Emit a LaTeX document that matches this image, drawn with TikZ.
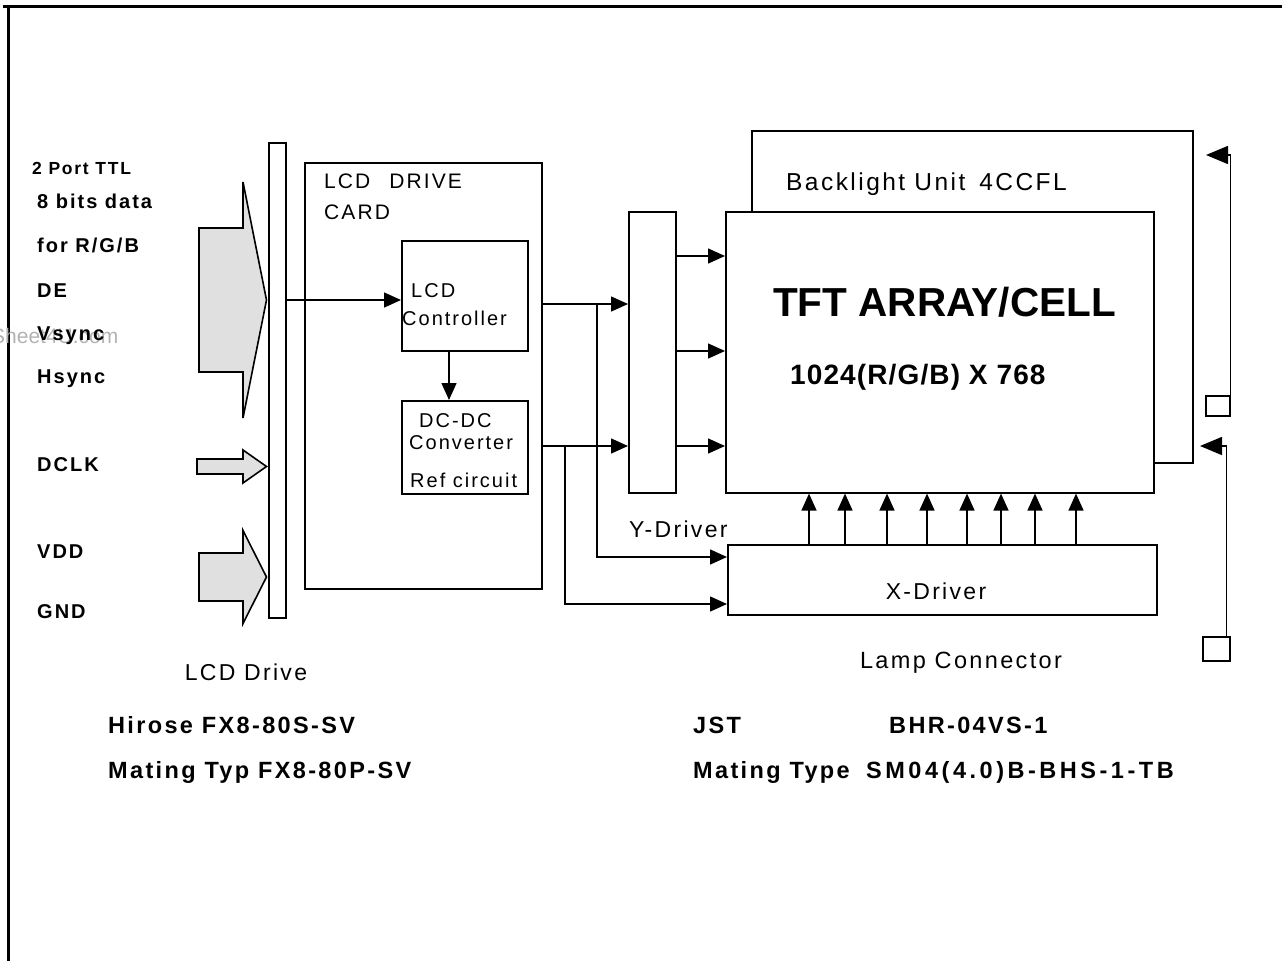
\documentclass[tikz,border=0pt]{standalone}
\usepackage{fontspec}
\setmainfont{Liberation Sans}
\newfontfamily\widesans{Liberation Sans}[LetterSpace=10]
\newfontfamily\midsans{Liberation Sans}[LetterSpace=4]
\usetikzlibrary{arrows.meta}
\begin{document}
\begin{tikzpicture}[x=1pt,y=-1pt,
  box/.style={draw,line width=1.6pt,inner sep=0pt,anchor=north west},
  sig/.style={line width=1.5pt,-{Triangle[length=17pt,width=15pt]}},
  lamp/.style={line width=1.6pt,-{Triangle[length=22pt,width=18pt]}},
  fat/.style={draw,line width=1.6pt,fill=black!12},
  pin/.style={font=\widesans\bfseries\fontsize{20}{24}\selectfont,anchor=base west,inner sep=0pt},
  txt/.style={font=\widesans\fontsize{23}{28}\selectfont,anchor=base west,inner sep=0pt},
  cardtxt/.style={font=\widesans\fontsize{20}{24}\selectfont,anchor=base west,inner sep=0pt},
  part/.style={font=\widesans\bfseries\fontsize{23.5}{28}\selectfont,anchor=base west,inner sep=0pt}]
  \useasboundingbox (0,0) rectangle (1282,961);
  % frame
  \draw[line width=3pt] (3,6.5) -- (1282,6.5);
  \draw[line width=2.5pt] (8.5,5) -- (8.5,961);
  % watermark
  \node[txt,text=black!30,font=\fontsize{21}{25}\selectfont] (mark) at (-9,343) {Sheet4U.com};
  % input pins
  \node[pin,font=\widesans\bfseries\fontsize{17.5}{21}\selectfont] (ttl) at (32,174) {2 Port TTL};
  \foreach \nm/\yy/\lab in {bits/208/{8 bits data},rgb/252/{for R/G/B},de/297/DE,vs/340/Vsync,
      hs/383/Hsync,dclk/471/DCLK,vdd/558/VDD,gnd/618/GND}
    \node[pin] (\nm) at (37,\yy) {\lab};
  \foreach \ty/\sh/\hh/\xs in {300/72/118/199,466.5/7.5/16.5/197,577/24/46.5/199}
    \draw[fat] (\xs,\ty-\sh) -- (243,\ty-\sh) -- (243,\ty-\hh) -- (266.5,\ty)
      -- (243,\ty+\hh) -- (243,\ty+\sh) -- (\xs,\ty+\sh) -- cycle;
  % boxes
  \node[box,minimum width=17pt,minimum height=475pt] (conn) at (268,142) {};
  \node[box,minimum width=237pt,minimum height=426pt] (card) at (304,162) {};
  \node[box,minimum width=126pt,minimum height=110pt] (ctrl) at (401,240) {};
  \node[box,minimum width=126pt,minimum height=93pt] (dcdc) at (401,400) {};
  \node[box,minimum width=47pt,minimum height=281pt] (ydrv) at (628,211) {};
  \node[box,minimum width=428pt,minimum height=281pt] (tft) at (725,211) {};
  \node[box,minimum width=429pt,minimum height=70pt] (xdrv) at (727,544) {};
  \node[box,minimum width=24pt,minimum height=20pt] (lampa) at (1205,395) {};
  \node[box,minimum width=27pt,minimum height=24pt] (lampb) at (1202,636) {};
  \draw[line width=1.6pt] (tft.north west) ++(27,0) -- ++(0,-80) -| (1193,463) -- (tft.east |- 0,463);
  % texts
  \node[cardtxt,font=\widesans\fontsize{21}{25}\selectfont] (cardname) at (324,188) {LCD\hspace{19pt}DRIVE};
  \node[cardtxt,font=\widesans\fontsize{21}{25}\selectfont] (cardname2) at (324,219) {CARD};
  \node[cardtxt] (ctrla) at (411,297) {LCD};
  \node[cardtxt] (ctrlb) at (402,325) {Controller};
  \node[cardtxt] (dca) at (419,427) {DC-DC};
  \node[cardtxt] (dcb) at (409,449) {Converter};
  \node[cardtxt] (dcc) at (410,487) {Ref circuit};
  \node[txt,font=\widesans\fontsize{24.5}{29}\selectfont] (bl) at (786,190) {Backlight Unit\hspace{14pt}4CCFL};
  \node[anchor=base west,inner sep=0pt,font=\bfseries\fontsize{40.5}{46}\selectfont] (tftname) at (773,316) {TFT ARRAY/CELL};
  \node[anchor=base west,inner sep=0pt,font=\midsans\bfseries\fontsize{28}{32}\selectfont] (res) at (790,384) {1024(R/G/B) X 768};
  \node[txt] (ylab) at (629,537) {Y-Driver};
  \node[txt,anchor=base] (xlab) at (936,599) {X-Driver};
  \node[txt,anchor=base,font=\widesans\fontsize{23.5}{28}\selectfont] (lamplab) at (961,668) {Lamp Connector};
  \node[txt,anchor=base] (drvlab) at (246,680) {LCD Drive};
  \node[part] (hirose) at (108,733) {Hirose FX8-80S-SV};
  \node[part] (hmate) at (108,778) {Mating Typ FX8-80P-SV};
  \node[part] (jst) at (693,733) {JST};
  \node[part] (jstpart) at (889,733) {BHR-04VS-1};
  \node[part] (jmate) at (693,778) {Mating Type};
  \node[part,font=\widesans\bfseries\fontsize{23.5}{28}\selectfont\addfontfeature{LetterSpace=15}] (jmatepart) at (866,778) {SM04(4.0)B-BHS-1-TB};
  % signals
  \draw[sig] (conn.east |- 0,300) -- (ctrl.west |- 0,300);
  \draw[sig] (ctrl.south -| 449,0) -- (dcdc.north -| 449,0);
  \foreach \yy in {304,446}
    \draw[sig] (card.east |- 0,\yy) -- (ydrv.west |- 0,\yy);
  \draw[sig] (597,304) |- (xdrv.west |- 0,557);
  \draw[sig] (565,446) |- (xdrv.west |- 0,604);
  \foreach \yy in {256,351,446}
    \draw[sig] (ydrv.east |- 0,\yy) -- (tft.west |- 0,\yy);
  \foreach \xx in {809,845,887,927,967,1001,1035,1076}
    \draw[sig] (xdrv.north -| \xx,0) -- (tft.south -| \xx,0);
  % lamp wires
  \draw[lamp] (lampa.north east) -- (lampa.east |- 0,155) -- (1206,155);
  \draw[lamp] (lampb.north east) ++(-4,0) -- ++(0,-190) -- (1200,446);
\end{tikzpicture}
\end{document}
